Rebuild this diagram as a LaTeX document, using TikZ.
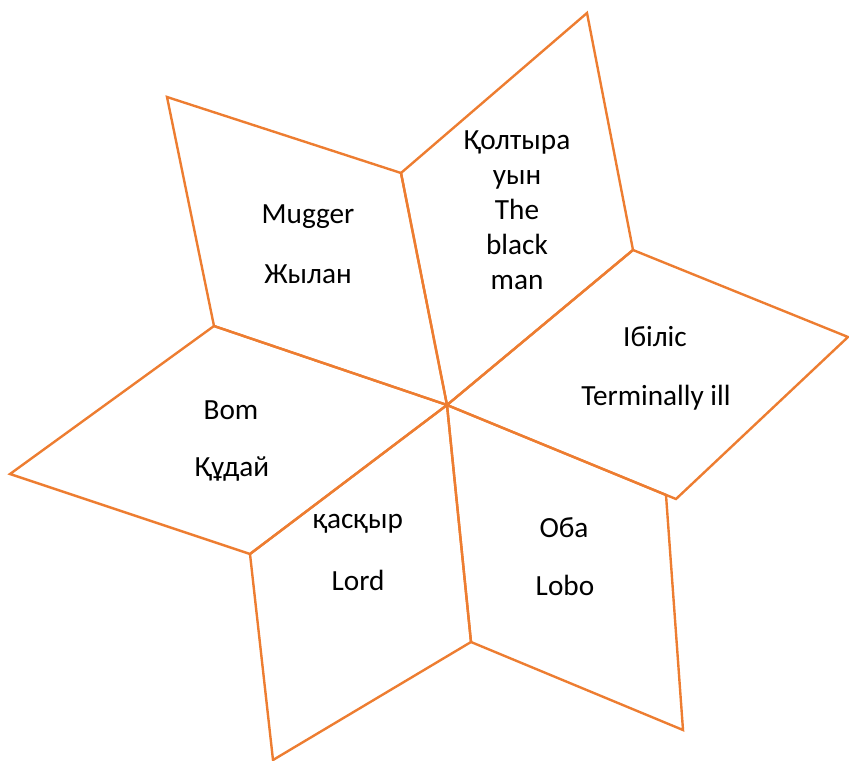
\documentclass[tikz,border=0pt]{standalone}
\usepackage{fontspec}
\setmainfont{Carlito}
\definecolor{edgeorange}{RGB}{237,125,49}
\begin{document}
\begin{tikzpicture}[x=0.025cm,y=-0.025cm,
  petal/.style={draw=edgeorange,line width=1.7pt,line join=miter},
  lbl/.style={anchor=base,inner sep=0pt,font=\fontsize{20.8}{24}\selectfont}]
\useasboundingbox (0,0) rectangle (849,761);
\coordinate (C) at (447,405);
\coordinate (A1) at (214,326);
\coordinate (A2) at (167,97);
\coordinate (A3) at (401,173);
\coordinate (A4) at (587,13);
\coordinate (A5) at (633,250);
\coordinate (A6) at (848,337);
\coordinate (A7) at (676,499);
\coordinate (A8) at (666,495);
\coordinate (A9) at (683,730);
\coordinate (A10) at (471,642);
\coordinate (A11) at (273,760);
\coordinate (A12) at (250,554);
\coordinate (A13) at (10,474);
\draw[petal] (C) -- (A1) -- (A2) -- (A3) -- cycle;
\draw[petal] (C) -- (A3) -- (A4) -- (A5) -- cycle;
\draw[petal] (C) -- (A5) -- (A6) -- (A7) -- cycle;
\draw[petal] (C) -- (A8) -- (A9) -- (A10) -- cycle;
\draw[petal] (C) -- (A10) -- (A11) -- (A12) -- cycle;
\draw[petal] (C) -- (A12) -- (A13) -- (A1) -- cycle;
\node[lbl] (t1) at (308,224) {Mugger};
\node[lbl] (t2) at (308,284) {Жылан};
\node[lbl] (t3) at (517,150) {Қолтыра};
\node[lbl] (t4) at (517,185) {уын};
\node[lbl] (t5) at (517,220) {The};
\node[lbl] (t6) at (517,255) {black};
\node[lbl] (t7) at (517,290) {man};
\node[lbl] (t8) at (655,347) {Ібіліс};
\node[lbl] (t9) at (656,406) {Terminally ill};
\node[lbl] (t10) at (231,419) {Bom};
\node[lbl] (t11) at (232,476) {Құдай};
\node[lbl] (t12) at (358,528) {қасқыр};
\node[lbl] (t13) at (358,590) {Lord};
\node[lbl] (t14) at (564,537) {Оба};
\node[lbl] (t15) at (565,595) {Lobo};
\end{tikzpicture}
\end{document}
